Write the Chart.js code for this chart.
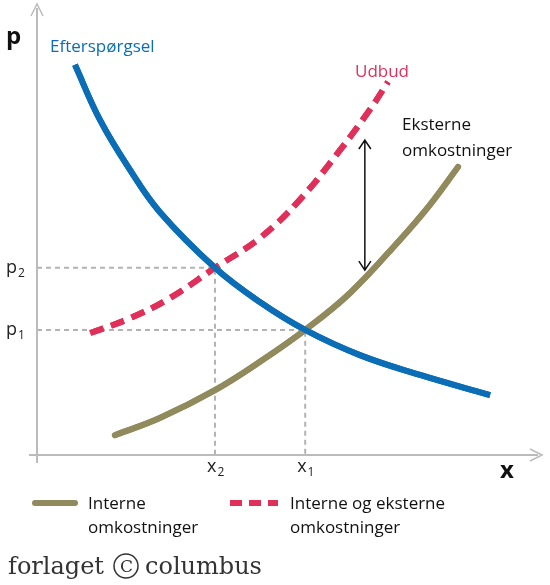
<!DOCTYPE html><html><head><meta charset="utf-8">
<script src="https://cdn.jsdelivr.net/npm/chart.js@4"></script>
<style>html,body{margin:0;padding:0;background:#fff}#c{display:block}</style></head><body>
<div style="width:550px;height:585px"><canvas id="c"></canvas></div>
<script>
const demandX=[7.7,12.8,18.9,24.9,36.1,45.2,54.4,65.5,77.7,91.9];
const demandY=[86.7,74.4,63.3,54,41.6,34,27.8,22.2,17.8,13.3];
const internX=[15.8,24.9,36.1,45.2,54.4,63.5,73.6,79.7,85.4];
const internY=[4.4,8.2,14.4,20.7,27.8,36,47.8,55.6,64];
const totalX=[10.8,18.9,27,36.1,45.2,53.3,61.5,67.5,71.2];
const totalY=[27.1,30.4,34.9,41.6,48.2,56.7,67.8,76.7,82.9];
const eqX={x2:36.1,x1:54.4};
const eqP={p2:41.6,p1:27.8};
const arrowX=66.5, arrowY=[41.1,70];
const pts=(xs,ys)=>xs.map((x,i)=>({x,y:ys[i]}));
const FONT='"Open Sans", sans-serif';
const blue='#0a6db5', red='#e0305a', olive='#908a5c', grey='#b3b3b3';
const deco={id:'deco',afterDatasetsDraw(ch){
 const c=ch.ctx,X=ch.scales.x,Y=ch.scales.y;
 const x0=X.getPixelForValue(0),y0=Y.getPixelForValue(0);
 c.save();
 // dashed guides
 c.strokeStyle=grey;c.lineWidth=2;c.setLineDash([5,4]);
 [[eqX.x2,eqP.p2],[eqX.x1,eqP.p1]].forEach(([a,b])=>{
  const px=X.getPixelForValue(a),py=Y.getPixelForValue(b);
  c.beginPath();c.moveTo(x0,py);c.lineTo(px,py);c.lineTo(px,y0);c.stroke();});
 c.setLineDash([]);
 // axes
 c.strokeStyle='#bbb';c.lineWidth=2;
 c.beginPath();c.moveTo(x0,y0+8);c.lineTo(x0,8);c.moveTo(x0-8,y0);c.lineTo(538,y0);c.stroke();
 c.lineWidth=1.5;c.beginPath();c.moveTo(x0-6,16);c.lineTo(x0,4);c.lineTo(x0+6,16);
 c.moveTo(530,y0-6);c.lineTo(542,y0);c.lineTo(530,y0+6);c.stroke();
 c.restore();
 // redraw curves on top of guides
 ch.getSortedVisibleDatasetMetas().forEach(m=>m.controller.draw());
 c.save();
 // arrow
 const ax=X.getPixelForValue(arrowX),ay1=Y.getPixelForValue(arrowY[0]),ay2=Y.getPixelForValue(arrowY[1]);
 c.strokeStyle='#111';c.lineWidth=1.5;c.beginPath();c.moveTo(ax,ay1);c.lineTo(ax,ay2);
 c.moveTo(ax-6,ay2+9);c.lineTo(ax,ay2);c.lineTo(ax+6,ay2+9);
 c.moveTo(ax-6,ay1-9);c.lineTo(ax,ay1);c.lineTo(ax+6,ay1-9);c.stroke();
 // texts
 c.textBaseline='alphabetic';
 c.font='bold 24px '+FONT;c.fillStyle='#111';c.fillText('p',6,44);c.fillText('x',500,478);
 c.font='17px '+FONT;
 c.fillStyle=blue;c.fillText('Efterspørgsel',50,52);
 c.fillStyle=red;c.fillText('Udbud',355,77);
 c.fillStyle='#111';c.fillText('Eksterne',402,130);c.fillText('omkostninger',402,156);
 const sub=(t,s,x,y)=>{c.font='18px '+FONT;c.fillText(t,x,y);const w=c.measureText(t).width;c.font='12px '+FONT;c.fillText(s,x+w+1,y+4);};
 c.fillStyle='#222';
 sub('p','2',6,Y.getPixelForValue(eqP.p2)+5);sub('p','1',6,Y.getPixelForValue(eqP.p1)+5);
 sub('x','2',X.getPixelForValue(eqX.x2)-8,472);sub('x','1',X.getPixelForValue(eqX.x1)-8,472);
 // legend
 c.lineCap='round';c.lineWidth=6;c.strokeStyle=olive;c.beginPath();c.moveTo(35,503);c.lineTo(75,503);c.stroke();
 c.strokeStyle=red;c.lineCap='butt';c.setLineDash([12,7]);c.beginPath();c.moveTo(230,503);c.lineTo(278,503);c.stroke();c.setLineDash([]);
 c.font='17px '+FONT;c.fillStyle='#111';
 c.fillText('Interne',88,509);c.fillText('omkostninger',88,533);
 c.fillText('Interne og eksterne',290,509);c.fillText('omkostninger',290,533);
 c.font='24px "DejaVu Serif", serif';c.fillStyle='#333';c.fillText('forlaget',8,574);
 c.beginPath();c.lineWidth=1.5;c.strokeStyle='#333';c.arc(126,566,12,0,Math.PI*2);c.stroke();
 c.font='17px "DejaVu Serif", serif';c.fillText('C',120,572);
 c.font='24px "DejaVu Serif", serif';c.fillText('columbus',145,574);
 c.restore();
}};
new Chart(document.getElementById('c'),{type:'scatter',
 data:{datasets:[
  {data:pts(internX,internY),showLine:true,borderColor:olive,borderWidth:6,pointRadius:0,tension:0.4,borderCapStyle:'round'},
  {data:pts(totalX,totalY),showLine:true,borderColor:red,borderWidth:6,pointRadius:0,tension:0.4,borderDash:[14,8]},
  {data:pts(demandX,demandY),showLine:true,borderColor:blue,borderWidth:6,pointRadius:0,tension:0.4}]},
 options:{responsive:true,maintainAspectRatio:false,animation:false,
  layout:{padding:{left:37,right:20,top:5,bottom:130}},
  plugins:{legend:{display:false},tooltip:{enabled:false}},
  scales:{x:{type:'linear',min:0,max:100,display:false},y:{min:0,max:100,display:false}}},
 plugins:[deco]});
</script></body></html>
